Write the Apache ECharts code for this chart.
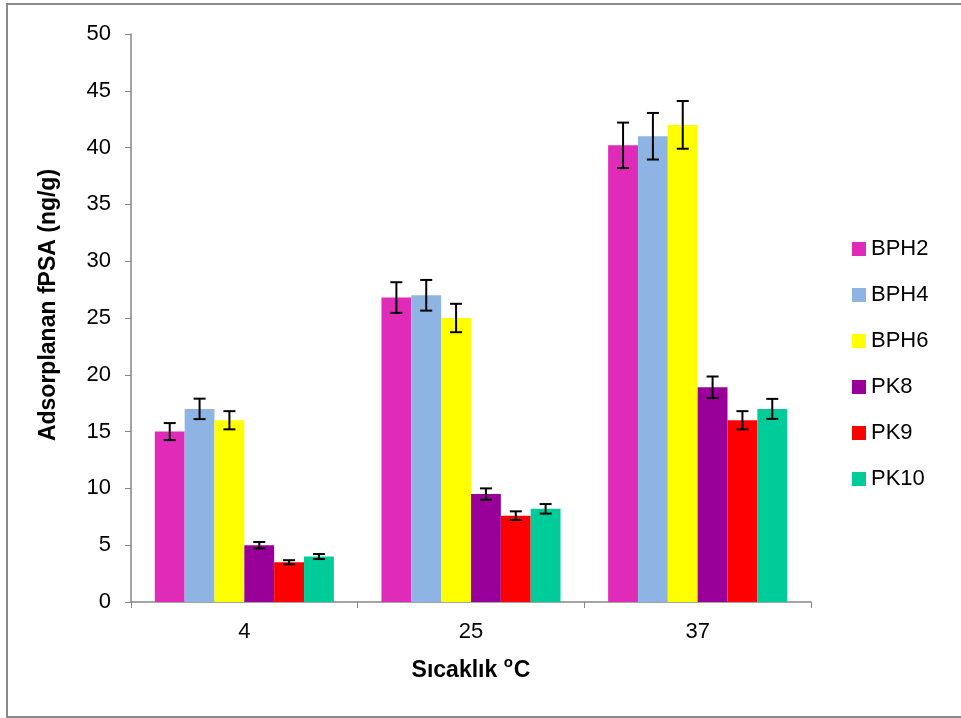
<!DOCTYPE html>
<html>
<head>
<meta charset="utf-8">
<script src="https://cdn.jsdelivr.net/npm/echarts@6/dist/echarts.min.js"></script>
<style>
html, body { margin: 0; padding: 0; background: #fff; }
#chart { width: 961px; height: 718px; }
</style>
</head>
<body>
<div id="chart"></div>
<script>
// temperatures on the x axis
var categories = ['4', '25', '37'];
var seriesNames = ['BPH2', 'BPH4', 'BPH6', 'PK8', 'PK9', 'PK10'];
var colors = ['#E02AB8', '#8EB4E3', '#FFFF00', '#990099', '#FF0000', '#00CC99'];

// adsorbed fPSA (ng/g) per series, per temperature
var bph2 = [15.0, 26.8, 40.2];
var bph4 = [17.0, 27.0, 41.0];
var bph6 = [16.0, 25.0, 42.0];
var pk8 = [5.0, 9.5, 18.9];
var pk9 = [3.5, 7.6, 16.0];
var pk10 = [4.0, 8.2, 17.0];

// error (+/-)
var bph2Err = [0.75, 1.35, 2.0];
var bph4Err = [0.9, 1.35, 2.05];
var bph6Err = [0.8, 1.25, 2.1];
var pk8Err = [0.28, 0.5, 0.95];
var pk9Err = [0.18, 0.38, 0.8];
var pk10Err = [0.22, 0.42, 0.88];

var values = [bph2, bph4, bph6, pk8, pk9, pk10];
var errors = [bph2Err, bph4Err, bph6Err, pk8Err, pk9Err, pk10Err];

var catGap = 0.21;
var font = 'Liberation Sans, Arial, sans-serif';

var series = [];
values.forEach(function (vals, i) {
    series.push({
        name: seriesNames[i],
        type: 'bar',
        data: vals,
        barGap: '0%',
        barCategoryGap: (catGap * 100) + '%',
        itemStyle: {color: colors[i]},
        z: 2
    });
});

// error bars, one custom series per bar series
values.forEach(function (vals, i) {
    var errData = vals.map(function (v, k) {
        return [k, v - errors[i][k], v + errors[i][k]];
    });
    series.push({
        type: 'custom',
        name: seriesNames[i] + ' err',
        data: errData,
        z: 5,
        silent: true,
        renderItem: function (params, api) {
            var band = api.size([1, 0])[0];
            var barW = band * (1 - catGap) / values.length;
            var offset = (i - (values.length - 1) / 2) * barW;
            var lo = api.coord([api.value(0), api.value(1)]);
            var hi = api.coord([api.value(0), api.value(2)]);
            var x = lo[0] + offset;
            var cap = 6;
            var st = {stroke: '#000', lineWidth: 2};
            return {
                type: 'group',
                children: [
                    {type: 'line', shape: {x1: x, y1: hi[1], x2: x, y2: lo[1]}, style: st},
                    {type: 'line', shape: {x1: x - cap, y1: hi[1], x2: x + cap, y2: hi[1]}, style: st},
                    {type: 'line', shape: {x1: x - cap, y1: lo[1], x2: x + cap, y2: lo[1]}, style: st}
                ]
            };
        },
        encode: {x: 0, y: [1, 2]}
    });
});

var chart = echarts.init(document.getElementById('chart'));
chart.setOption({
    animation: false,
    textStyle: {fontFamily: font},
    grid: {left: 131, right: 150, top: 34, bottom: 116},
    legend: {
        data: seriesNames,
        orient: 'vertical',
        left: 852,
        top: 238,
        padding: 0,
        itemWidth: 14,
        itemHeight: 14,
        itemGap: 24,
        icon: 'rect',
        textStyle: {fontFamily: font, fontSize: 22, color: '#000'}
    },
    xAxis: {
        type: 'category',
        data: categories,
        name: '{t|Sıcaklık }{s|o}{t|C}',
        nameLocation: 'middle',
        nameGap: 53,
        nameTextStyle: {
            rich: {
                t: {fontFamily: font, fontSize: 23, fontWeight: 'bold', color: '#000'},
                s: {fontFamily: font, fontSize: 15, fontWeight: 'bold', color: '#000', verticalAlign: 'top', padding: [0, 1, 16, 0]}
            }
        },
        axisLine: {lineStyle: {color: '#868686', width: 1.5}},
        axisTick: {show: true, length: 6, lineStyle: {color: '#868686'}},
        axisLabel: {fontSize: 22, color: '#000', margin: 19, fontFamily: font}
    },
    yAxis: {
        type: 'value',
        min: 0,
        max: 50,
        interval: 5,
        name: 'Adsorplanan fPSA (ng/g)',
        nameLocation: 'middle',
        nameGap: 71,
        nameTextStyle: {fontFamily: font, fontSize: 23, fontWeight: 'bold', color: '#000', padding: [0, 0, 0, 26]},
        axisLine: {show: true, lineStyle: {color: '#868686', width: 1.5}},
        axisTick: {show: true, length: 6, lineStyle: {color: '#868686'}},
        splitLine: {show: false},
        axisLabel: {fontSize: 22, color: '#000', margin: 20, fontFamily: font}
    },
    graphic: [{
        type: 'rect',
        shape: {x: 7, y: 4, width: 960, height: 713},
        style: {fill: 'none', stroke: '#8a8a8a', lineWidth: 2},
        silent: true
    }],
    series: series
});
</script>
</body>
</html>
